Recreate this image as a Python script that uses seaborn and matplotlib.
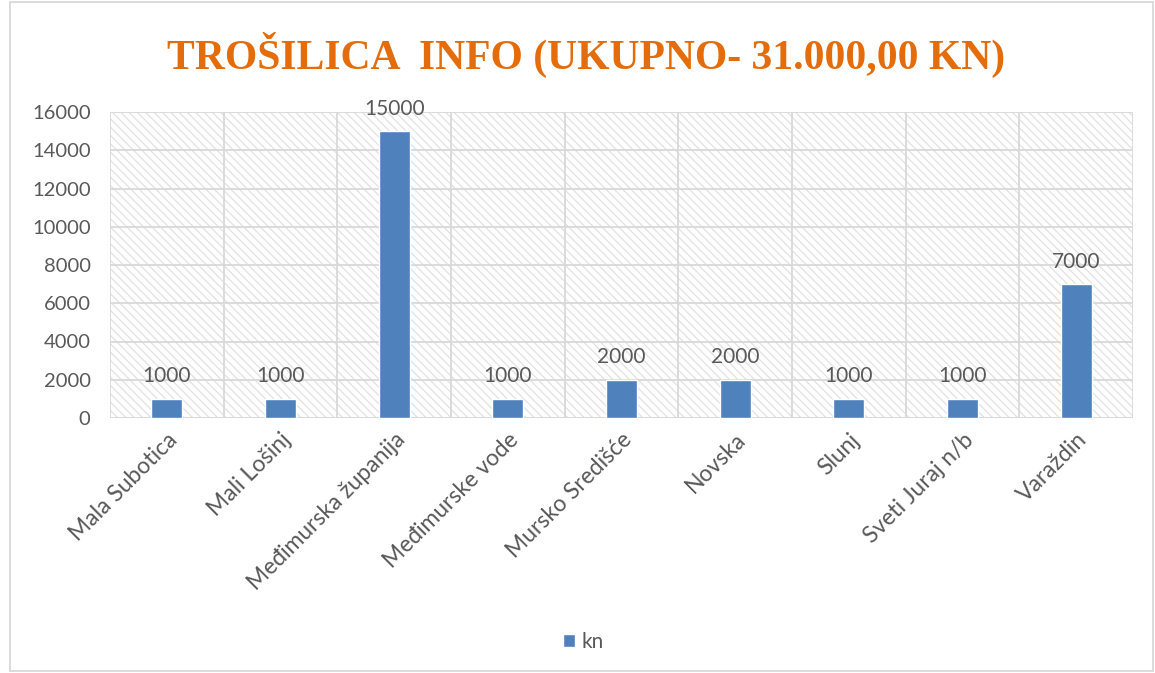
import matplotlib
matplotlib.use("Agg")
import matplotlib.pyplot as plt
import seaborn as sns
import pandas as pd
from matplotlib.patches import Rectangle, Patch
from matplotlib.ticker import MultipleLocator, FixedLocator

categories = ["Mala Subotica", "Mali Lošinj", "Međimurska županija", "Međimurske vode",
              "Mursko Središće", "Novska", "Slunj", "Sveti Juraj n/b", "Varaždin"]
values = [1000, 1000, 15000, 1000, 2000, 2000, 1000, 1000, 7000]
title = "TROŠILICA  INFO (UKUPNO- 31.000,00 KN)"
series_name = "kn"

sns.set_theme(style="white")
plt.rcParams['font.family'] = ['Lato', 'DejaVu Sans']
plt.rcParams['hatch.linewidth'] = 0.9

txt = '#595959'
grid = '#D9D9D9'
bar_color = '#4F81BD'

fig = plt.figure(figsize=(11.55, 6.73), dpi=100)
ax = fig.add_axes([110/1155, 1-418/673, (1133-110)/1155, (418-112)/673])

df = pd.DataFrame({"cat": categories, "val": values})
sns.barplot(data=df, x="cat", y="val", color=bar_color, width=0.275, saturation=1, ax=ax, zorder=3)

ax.set_ylim(0, 16000)
ax.set_xlim(-0.5, len(categories) - 0.5)
ax.yaxis.set_major_locator(MultipleLocator(2000))
ax.xaxis.set_minor_locator(FixedLocator([i + 0.5 for i in range(-1, len(categories))]))
ax.grid(axis='y', which='major', color=grid, linewidth=1.3, zorder=1)
ax.grid(axis='x', which='minor', color=grid, linewidth=1.3, zorder=1)
ax.set_axisbelow(True)

# hatched plot-area background
ax.add_patch(Rectangle((0, 0), 1, 1, transform=ax.transAxes, facecolor='white',
                       edgecolor='#E2E2E2', linewidth=0, hatch='\\\\\\\\', zorder=0))

for s in ax.spines.values():
    s.set_visible(False)
ax.axhline(0, color=grid, linewidth=1.3, zorder=2)

ax.set_xlabel("")
ax.set_ylabel("")
ax.tick_params(axis='both', which='both', length=0, labelcolor=txt)
ax.tick_params(axis='y', pad=14, labelsize=14.5)
ax.set_xticks(range(len(categories)))
ax.set_xticklabels(categories, rotation=45, ha='right', rotation_mode='anchor')
ax.tick_params(axis='x', pad=8, labelsize=16.5)

for c in ax.containers:
    ax.bar_label(c, labels=[f"{v}" for v in values], padding=9, fontsize=15, color=txt)

fig.text(0.507, 0.918, title, ha='center', va='center', fontsize=30, fontweight='bold',
         color='#E46C0A', family='Liberation Serif')

leg = fig.legend(handles=[Patch(facecolor=bar_color, label=series_name)], loc='center',
                 bbox_to_anchor=(0.505, 1-642/673), frameon=False, fontsize=15,
                 handlelength=0.6, handleheight=0.6, handletextpad=0.3)
for t in leg.get_texts():
    t.set_color(txt)

fig.patches.append(Rectangle((10/1155, 0.003), 1 - 12/1155, 0.994, transform=fig.transFigure,
                             fill=False, edgecolor=grid, linewidth=1.3))

fig.savefig("out.png", dpi=100)
